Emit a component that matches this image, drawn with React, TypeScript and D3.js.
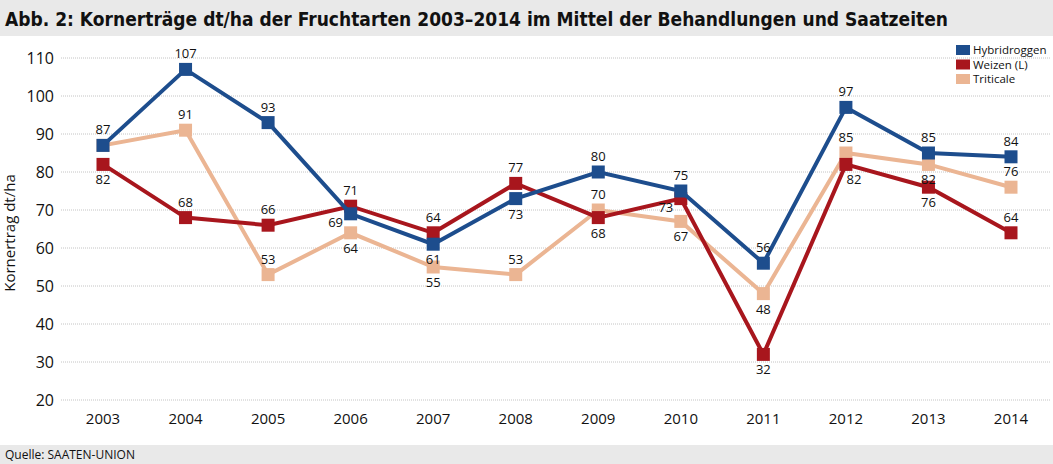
import React from "react";
import * as d3 from "d3";

const years = ["2003","2004","2005","2006","2007","2008","2009","2010","2011","2012","2013","2014"];
const hybridroggen = [87,107,93,69,61,73,80,75,56,97,85,84];
const weizen = [82,68,66,71,64,77,68,73,32,82,76,64];
const triticale = [87,91,53,64,55,53,70,67,48,85,82,76];
// label placement: a = above, b = below, bl = below-left, br = below-right, n = none
const hybridLabelPos = ["a","a","a","bl","b","b","a","a","a","a","a","a"];
const weizenLabelPos = ["b","a","a","a","a","a","b","bl","b","br","b","a"];
const triticaleLabelPos = ["n","a","a","b","b","a","a","b","b","a","b","a"];
const yTicks = [20,30,40,50,60,70,80,90,100,110];
const seriesNames = ["Hybridroggen","Weizen (L)","Triticale"];

const W = 1053, H = 464;
const FONT = "'Open Sans', 'Noto Sans', sans-serif";

export default function App() {
  const x = d3.scalePoint<string>().domain(years).range([103, 1011]);
  const y = d3.scaleLinear().domain([20, 110]).range([400, 58]);
  const line = d3.line<number>().x((_, i) => x(years[i])!).y(d => y(d));

  const series = [
    { name: seriesNames[2], values: triticale, pos: triticaleLabelPos, color: "#ebb593" },
    { name: seriesNames[1], values: weizen, pos: weizenLabelPos, color: "#a8161d" },
    { name: seriesNames[0], values: hybridroggen, pos: hybridLabelPos, color: "#1d4d8d" },
  ];
  const legend = [
    { name: seriesNames[0], color: "#1d4d8d" },
    { name: seriesNames[1], color: "#a8161d" },
    { name: seriesNames[2], color: "#ebb593" },
  ];
  const ms = 13;

  return (
    <svg width={W} height={H} style={{ position: "absolute", left: 0, top: 0 }} fontFamily={FONT}>
      <rect x={0} y={0} width={W} height={H} fill="#fff" />
      <rect x={0} y={0} width={W} height={36} fill="#e9e9e9" />
      <text x={5} y={26} fontFamily="'DejaVu Sans Condensed', 'Liberation Sans Narrow', sans-serif" fontWeight="bold" fontSize={20} textLength={943} lengthAdjust="spacingAndGlyphs" fill="#111">
        Abb. 2: Kornerträge dt/ha der Fruchtarten 2003–2014 im Mittel der Behandlungen und Saatzeiten
      </text>
      <rect x={0} y={445} width={W} height={19} fill="#e9e9e9" />
      <text x={5} y={459} fontSize={12} fill="#111">Quelle: SAATEN-UNION</text>

      {yTicks.map(t => (
        <g key={t}>
          <line x1={61} x2={1050} y1={y(t)} y2={y(t)} stroke="#c4c4c4" strokeWidth={1} strokeDasharray="1,1" />
          <text x={54} y={y(t) + 6} textAnchor="end" fontSize={16} fill="#111">{t}</text>
        </g>
      ))}
      {years.map(yr => (
        <text key={yr} x={x(yr)!} y={424} textAnchor="middle" fontSize={15} fill="#111">{yr}</text>
      ))}
      <text transform={`translate(15,233) rotate(-90)`} textAnchor="middle" fontSize={15} fill="#111">Kornertrag dt/ha</text>

      {series.map(s => (
        <g key={s.name}>
          <path d={line(s.values)!} fill="none" stroke={s.color} strokeWidth={4} strokeLinejoin="miter" />
          {s.values.map((v, i) => (
            <rect key={i} x={x(years[i])! - ms / 2} y={y(v) - ms / 2} width={ms} height={ms} fill={s.color} />
          ))}
        </g>
      ))}
      {series.map(s => (
        <g key={s.name + "l"}>
          {s.values.map((v, i) => {
            const p = s.pos[i];
            if (p === "n") return null;
            let dx = 0, dy = -11;
            if (p === "b") dy = 20;
            if (p === "bl") { dx = -15; dy = 13; }
            if (p === "br") { dx = 8; dy = 20; }
            return (
              <text key={i} x={x(years[i])! + dx} y={y(v) + dy} textAnchor="middle" fontSize={13} fill="#111">{v}</text>
            );
          })}
        </g>
      ))}

      {legend.map((l, i) => (
        <g key={l.name}>
          <rect x={956} y={45 + i * 14.5} width={14} height={10} fill={l.color} />
          <text x={973} y={54 + i * 14.5} fontSize={11.5} fill="#111">{l.name}</text>
        </g>
      ))}
    </svg>
  );
}
